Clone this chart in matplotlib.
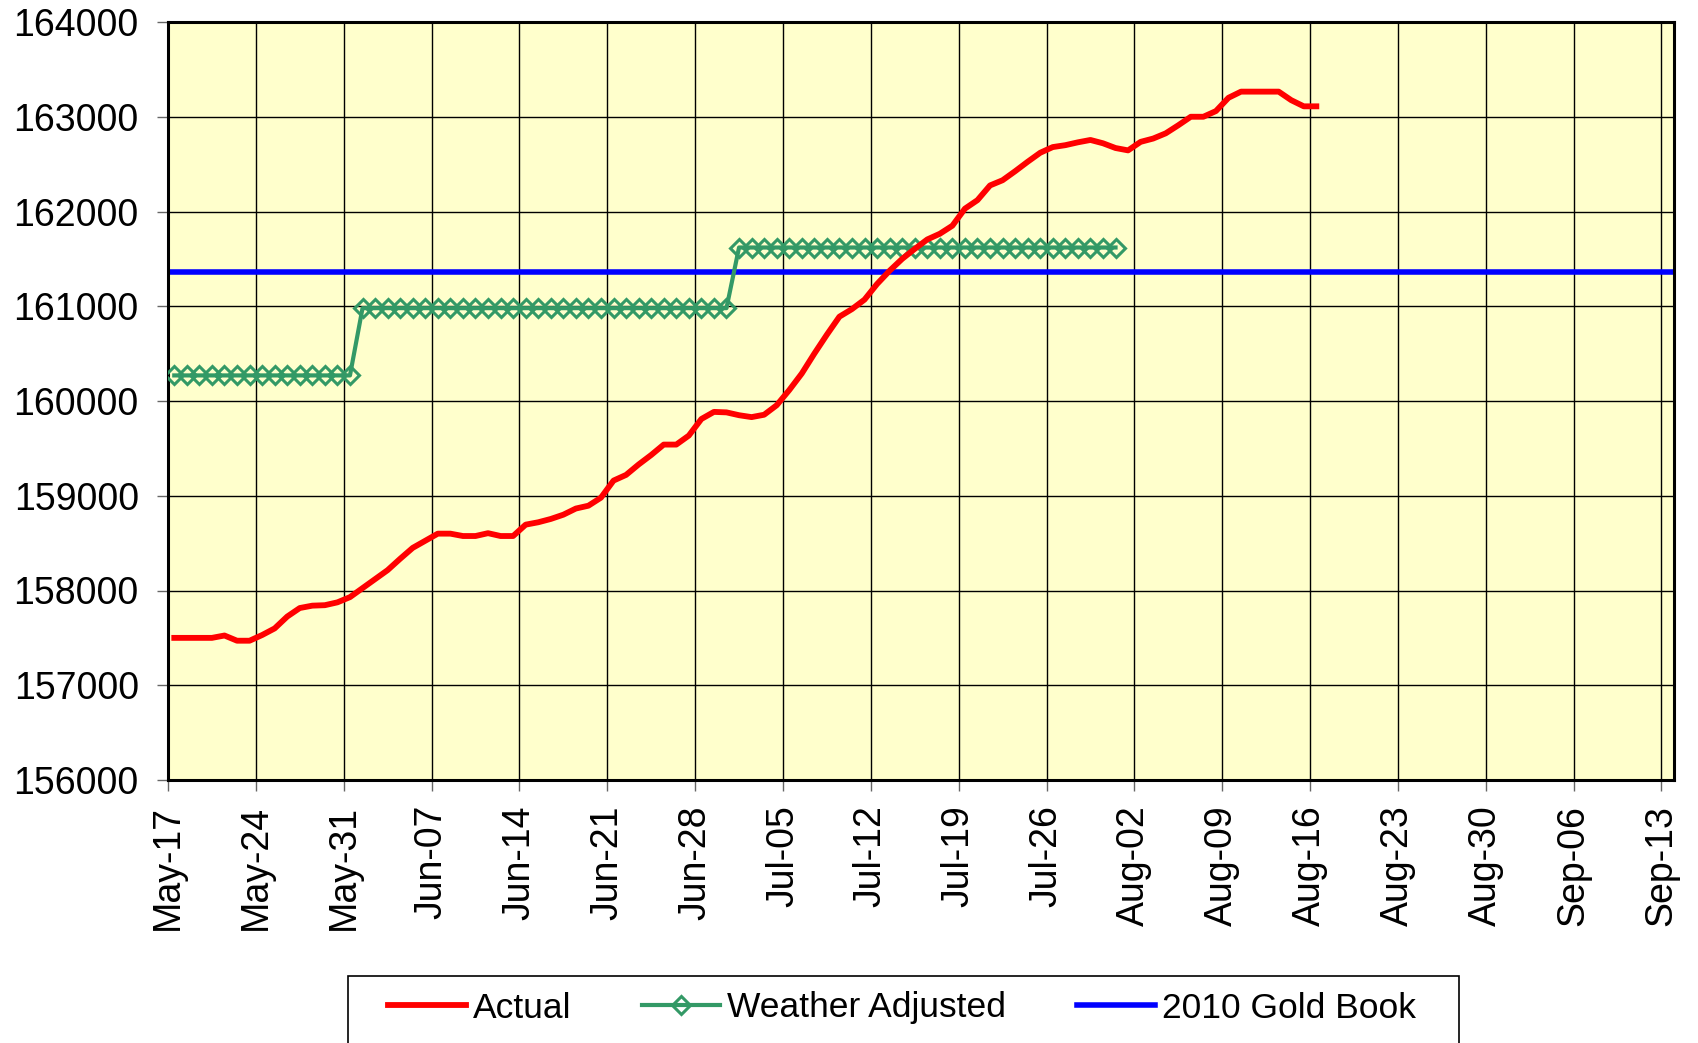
import numpy as np
import matplotlib
matplotlib.use('Agg')
import matplotlib.pyplot as plt
import matplotlib.dates as mdates
from matplotlib.patches import Rectangle

plt.rcParams['font.family'] = ['Liberation Sans', 'DejaVu Sans']

######################
# Data (daily values from 2010-05-17)
start = np.datetime64('2010-05-17')
actual = [157500, 157500, 157500, 157500, 157525, 157470, 157470, 157530,
          157600, 157725, 157815, 157840, 157845, 157875, 157930, 158025,
          158120, 158215, 158335, 158450, 158525, 158600, 158600, 158575,
          158575, 158605, 158575, 158575, 158695, 158720, 158755, 158800,
          158865, 158895, 158980, 159160, 159220, 159330, 159430, 159540,
          159540, 159635, 159810, 159885, 159880, 159850, 159830, 159855,
          159955, 160115, 160290, 160500, 160700, 160890, 160970, 161070,
          161235, 161375, 161500, 161605, 161705, 161765, 161850, 162030,
          162120, 162275, 162330, 162425, 162525, 162620, 162680, 162700,
          162730, 162755, 162720, 162670, 162645, 162735, 162770, 162825,
          162910, 163000, 163000, 163060, 163200, 163265, 163265, 163265,
          163265, 163175, 163110, 163110]
weather_adjusted = [160270] * 15 + [160980] * 30 + [161620] * 31
gold_book = 161360

axis_start = '2010-05-17'
axis_end = '2010-09-14'

# Excel centres each point between day ticks
half_day = np.timedelta64(12, 'h')
days_actual = start + np.arange(len(actual)).astype('timedelta64[D]') + half_day
days_weather = start + np.arange(len(weather_adjusted)).astype('timedelta64[D]') + half_day

######################
# Figure
fig = plt.figure(figsize=(16.99, 10.43), dpi=100)
ax = fig.add_axes([168 / 1699, 1 - 780 / 1043, (1674 - 168) / 1699, (780 - 22) / 1043])
ax.set_facecolor('#FFFFCC')

ax.plot(days_actual, actual, color='#FF0000', lw=4.2, label='Actual', zorder=4)
ax.plot(days_weather, weather_adjusted, color='#339966', lw=3.0,
        marker='D', ms=9.5, mfc='none', mec='#339966', mew=2.2,
        label='Weather Adjusted', zorder=3)
ax.axhline(gold_book, color='#0000FF', lw=4.0, label='2010 Gold Book', zorder=2)

ax.set_xlim(np.datetime64(axis_start), np.datetime64(axis_end))
ax.set_ylim(156000, 164000)
ax.xaxis.set_major_locator(mdates.WeekdayLocator(byweekday=mdates.MO))
ax.xaxis.set_major_formatter(mdates.DateFormatter('%b-%d'))
ax.set_yticks(np.arange(156000, 164001, 1000))

ax.grid(True, color='black', lw=1.0)
ax.set_axisbelow(True)
for s in ax.spines.values():
    s.set_linewidth(2.2)
    s.set_color('black')

ax.tick_params(axis='x', labelsize=27, rotation=90, length=8, width=1,
               color='#666666', pad=10)
ax.tick_params(axis='y', labelsize=27, length=8, width=1,
               color='#666666', pad=13)
for lab in ax.get_xticklabels():
    lab.set_verticalalignment('top')
    lab.set_horizontalalignment('center')

######################
# Legend: box runs off the bottom of the picture as in the original
box = Rectangle((348 / 1699, -0.05), (1459 - 348) / 1699, 0.05 + 1 - 976 / 1043,
                transform=fig.transFigure, facecolor='white', edgecolor='black',
                lw=1.2, zorder=1)
fig.patches.append(box)
leg = fig.legend(loc='center left', bbox_to_anchor=(388 / 1699, 1 - 1008 / 1043),
                 ncol=3, fontsize=25.5, frameon=False,
                 handlelength=2.2, handletextpad=0.2, columnspacing=2.0,
                 borderpad=0, borderaxespad=0)

fig.savefig('out.png', dpi=100)
